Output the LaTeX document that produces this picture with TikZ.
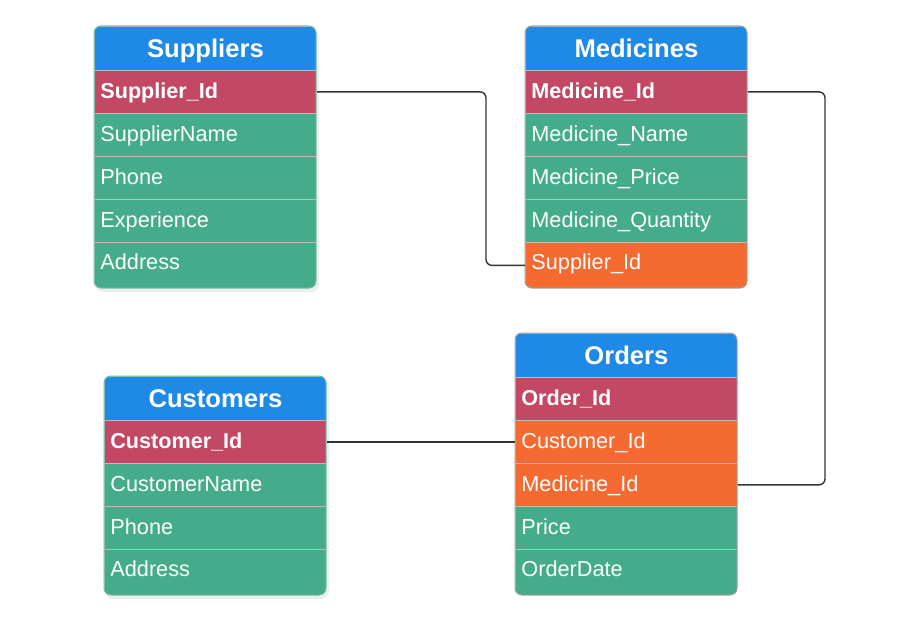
\documentclass[tikz,border=0pt]{standalone}
\usepackage{fontspec}
\setmainfont{Liberation Sans}
\definecolor{hdr}{HTML}{1E8AE6}
\definecolor{pk}{HTML}{C24864}
\definecolor{fld}{HTML}{44AB8B}
\definecolor{fk}{HTML}{F46A30}
\definecolor{sep}{HTML}{BDBDBD}
\definecolor{framegray}{HTML}{9E9E9E}
\definecolor{framegreen}{HTML}{6DBFA3}
\definecolor{wire}{HTML}{333333}
\tikzset{
  cell/.style={anchor=north west, minimum width=222pt, text width=210pt,
    inner xsep=6pt, inner ysep=0pt, align=left, text=white,
    text height=14.7pt, text depth=1pt,
    font=\fontsize{21.7}{25}\selectfont, draw=sep, line width=0.8pt,
    minimum height=43pt},
  hdrcell/.style={cell, fill=hdr, align=center, minimum height=44pt,
    text height=17.5pt, text depth=0pt, font=\fontsize{25.6}{29}\selectfont\bfseries},
  pkcell/.style={cell, fill=pk, font=\fontsize{21.6}{25}\selectfont\bfseries},
  fldcell/.style={cell, fill=fld},
  fkcell/.style={cell, fill=fk},
  lastcell/.style={minimum height=46pt, text depth=6pt},
  tframe/.style={line width=1pt, rounded corners=7pt},
  tshadow/.style={fill=black, opacity=0.07, rounded corners=8pt},
  wirestyle/.style={draw=wire, line width=1.4pt, rounded corners=6pt},
}
\begin{document}
\begin{tikzpicture}[x=1pt,y=-1pt]
\useasboundingbox (0,0) rectangle (918,631);
\fill[white] (0,0) rectangle (918,631);

% Suppliers
\fill[tshadow] (95,29) rectangle (319,292);
\begin{scope}
\clip[rounded corners=7pt] (94,26) rectangle (316,288);
\node[hdrcell] (sup) at (94,26) {Suppliers};
\node[pkcell] (supid) at (94,70) {Supplier\_Id};
\node[fldcell] (supname) at (94,113) {SupplierName};
\node[fldcell] (supphone) at (94,156) {Phone};
\node[fldcell] (supexp) at (94,199) {Experience};
\node[fldcell, lastcell] (supaddr) at (94,242) {Address};
\end{scope}
\draw[tframe, framegreen] (94,26) rectangle (316,288);

% Medicines
\begin{scope}
\clip[rounded corners=7pt] (525,26) rectangle (747,288);
\node[hdrcell] (med) at (525,26) {Medicines};
\node[pkcell] (medid) at (525,70) {Medicine\_Id};
\node[fldcell] (medname) at (525,113) {Medicine\_Name};
\node[fldcell] (medprice) at (525,156) {Medicine\_Price};
\node[fldcell] (medqty) at (525,199) {Medicine\_Quantity};
\node[fkcell, lastcell] (medsid) at (525,242) {Supplier\_Id};
\end{scope}
\draw[tframe, framegray] (525,26) rectangle (747,288);

% Orders
\begin{scope}
\clip[rounded corners=7pt] (515,333) rectangle (737,595);
\node[hdrcell] (ord) at (515,333) {Orders};
\node[pkcell] (ordid) at (515,377) {Order\_Id};
\node[fkcell] (ordcid) at (515,420) {Customer\_Id};
\node[fkcell] (ordmid) at (515,463) {Medicine\_Id};
\node[fldcell] (ordprice) at (515,506) {Price};
\node[fldcell, lastcell] (orddate) at (515,549) {OrderDate};
\end{scope}
\draw[tframe, framegray] (515,333) rectangle (737,595);

% Customers
\fill[tshadow] (105,379) rectangle (329,599);
\begin{scope}
\clip[rounded corners=7pt] (104,376) rectangle (326,595);
\node[hdrcell] (cus) at (104,376) {Customers};
\node[pkcell] (cusid) at (104,420) {Customer\_Id};
\node[fldcell] (cusname) at (104,463) {CustomerName};
\node[fldcell] (cusphone) at (104,506) {Phone};
\node[fldcell, lastcell] (cusaddr) at (104,549) {Address};
\end{scope}
\draw[tframe, framegreen] (104,376) rectangle (326,595);

% connectors
\coordinate (ja) at (486,0);
\coordinate (jb) at (825,0);
\draw[wirestyle] (supid.east) -- (supid.east -| ja) -- (medsid.west -| ja) -- (medsid.west);
\draw[wirestyle] (medid.east) -- (medid.east -| jb) -- (ordmid.east -| jb) -- (ordmid.east);
\draw[wirestyle] (cusid.east) -- (ordcid.west);
\end{tikzpicture}
\end{document}
